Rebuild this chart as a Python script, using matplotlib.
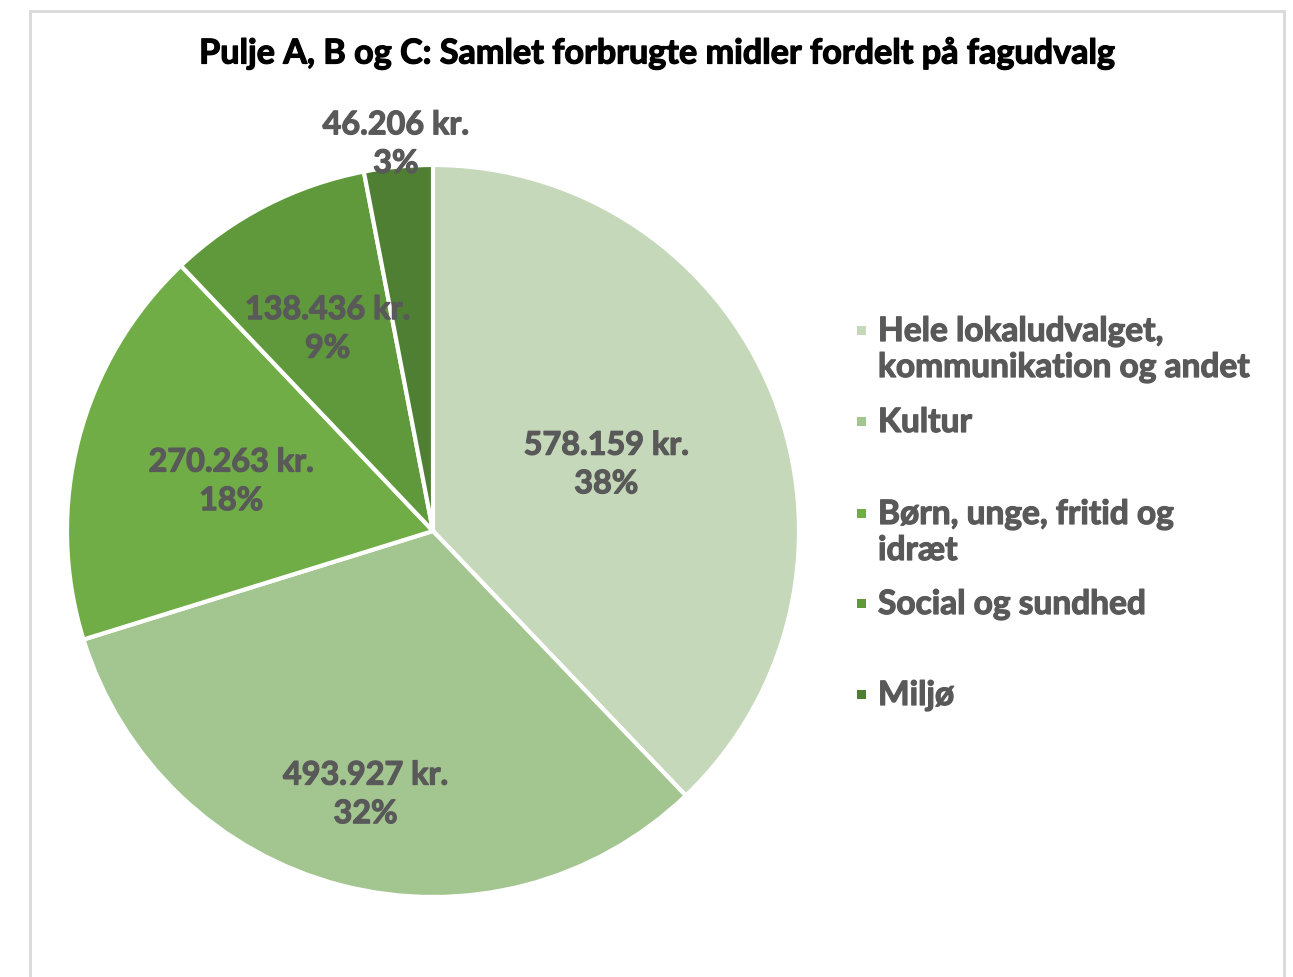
import matplotlib
matplotlib.use("Agg")
import matplotlib.pyplot as plt
from matplotlib.patches import Rectangle
import matplotlib.patheffects as pe
import numpy as np

# ---- data ----
categories = [
    "Hele lokaludvalget,\nkommunikation og andet",
    "Kultur",
    "Børn, unge, fritid og\nidræt",
    "Social og sundhed",
    "Miljø",
]
values = [578159, 493927, 270263, 138436, 46206]
colors = ["#C5D8BA", "#A3C590", "#70AD47", "#5F993C", "#4F7F32"]
title = "Pulje A, B og C: Samlet forbrugte midler fordelt på fagudvalg"

# ---- layout ----
label_dist = [0.51, 0.735, 0.57, 0.63, 1.07]
FONT = "Lato"
GRAY = "#595959"
W, H = 1293, 978
fig = plt.figure(figsize=(W / 100, H / 100), dpi=100)
fig.patch.set_facecolor("white")


def heavy(color, lw=0.9):
    return [pe.withStroke(linewidth=lw, foreground=color)]


# frame
fig.patches.append(Rectangle((30 / W, -0.02), (1284 - 30) / W, (H - 12) / H + 0.02,
                             transform=fig.transFigure, fill=False,
                             edgecolor="#D9D9D9", linewidth=2))

cx, cy, r = 433, 532, 366
ax = fig.add_axes([(cx - r) / W, (H - cy - r) / H, 2 * r / W, 2 * r / H])
ax.axis("off")

wedges, _ = ax.pie(values, colors=colors, startangle=90, counterclock=False,
                   radius=1, wedgeprops=dict(edgecolor="white", linewidth=3))
ax.set_xlim(-1, 1)
ax.set_ylim(-1, 1)
ax.set_aspect("auto")

total = sum(values)
for w, v, d in zip(wedges, values, label_dist):
    ang = np.deg2rad((w.theta1 + w.theta2) / 2)
    txt = f"{v:,}".replace(",", ".") + " kr.\n" + f"{round(v / total * 100)}%"
    ax.text(d * np.cos(ang), d * np.sin(ang) - 0.008, txt, ha="center", va="center",
            fontsize=23.3, fontweight="bold", color=GRAY, family=FONT,
            linespacing=1.4, path_effects=heavy(GRAY))

fig.text(657 / W, 1 - 54 / H, title, ha="center", va="center",
         fontsize=24.6, fontweight="bold", color="black", family=FONT,
         path_effects=heavy("black"))

# legend
leg_y = [331, 422, 514, 604, 695]
for lab, col, y in zip(categories, colors, leg_y):
    fig.patches.append(Rectangle((857 / W, 1 - (y + 5) / H), 9 / W, 9 / H,
                                 transform=fig.transFigure, facecolor=col,
                                 edgecolor="none"))
    for i, line in enumerate(lab.split("\n")):
        fig.text(878 / W, 1 - (y + 11 + 36 * i) / H, line, ha="left",
                 va="baseline", fontsize=24.1, fontweight="bold", color=GRAY,
                 family=FONT, path_effects=heavy(GRAY))

fig.savefig("out.png", dpi=100, facecolor="white")
